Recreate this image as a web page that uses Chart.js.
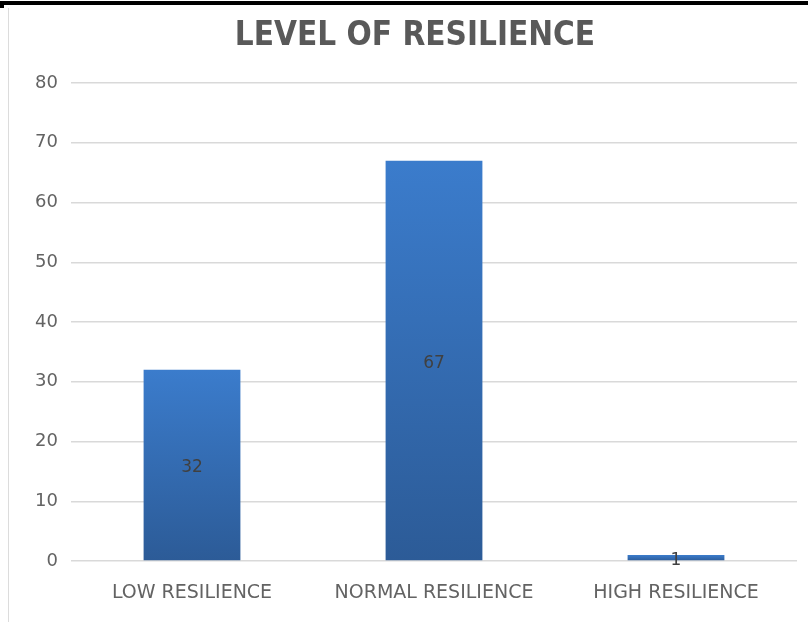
<!DOCTYPE html>
<html>
<head>
<meta charset="utf-8">
<script src="https://cdn.jsdelivr.net/npm/chart.js@4.4.1/dist/chart.umd.min.js"></script>
<style>
  html, body { margin: 0; padding: 0; background: #ffffff; }
  #frame { position: relative; width: 808px; height: 622px; overflow: hidden; }
  #topRule { position: absolute; left: 0; top: 1px; width: 808px; height: 4px; background: #000; }
  #corner { position: absolute; left: 0; top: 5px; width: 4px; height: 3px; background: #000; }
  #leftRule { position: absolute; left: 8px; top: 8px; width: 1px; height: 614px; background: #dcdcdc; }
  canvas { position: absolute; left: 0; top: 0; }
</style>
</head>
<body>
<div id="frame">
  <canvas id="chart" width="808" height="622"></canvas>
  <div id="topRule"></div>
  <div id="corner"></div>
  <div id="leftRule"></div>
</div>
<script>
// Resilience levels and respondent counts
const categories = ['LOW RESILIENCE', 'NORMAL RESILIENCE', 'HIGH RESILIENCE'];
const counts = [32, 67, 1];
const yTicks = [0, 10, 20, 30, 40, 50, 60, 70, 80];

const textGrey = '#595959';
const labelFont = "'DejaVu Sans', sans-serif";

// Each bar gets its own vertical gradient, lighter at the top
function barGradient(ctx) {
  const chart = ctx.chart;
  const y = chart.scales && chart.scales.y;
  if (!y || !chart.chartArea || ctx.parsed == null) return '#3470b8';
  const top = y.getPixelForValue(ctx.parsed.y);
  const base = y.getPixelForValue(0);
  const g = chart.ctx.createLinearGradient(0, top, 0, base);
  g.addColorStop(0, '#3b7ccc');
  g.addColorStop(1, '#2c5b97');
  return g;
}

// Value labels inside each bar, just below its middle
const centreLabels = {
  id: 'centreLabels',
  afterDatasetsDraw(chart) {
    const ctx = chart.ctx;
    const meta = chart.getDatasetMeta(0);
    ctx.save();
    ctx.font = "17px " + labelFont;
    ctx.fillStyle = '#404040';
    ctx.textAlign = 'center';
    ctx.textBaseline = 'middle';
    meta.data.forEach((bar, i) => {
      const mid = (bar.y + bar.base) / 2 + 3;
      ctx.fillText(String(counts[i]), bar.x, mid);
    });
    ctx.restore();
  }
};

new Chart(document.getElementById('chart'), {
  type: 'bar',
  data: {
    labels: categories,
    datasets: [{
      data: counts,
      backgroundColor: barGradient,
      borderWidth: 0,
      barPercentage: 0.4,
      categoryPercentage: 1.0
    }]
  },
  options: {
    responsive: false,
    animation: false,
    events: [],
    layout: { padding: { left: 33, right: 11, top: 0, bottom: 0 } },
    plugins: {
      legend: { display: false },
      tooltip: { enabled: false },
      title: {
        display: true,
        text: 'LEVEL OF RESILIENCE',
        color: textGrey,
        font: { family: "'DejaVu Sans Condensed', 'Liberation Sans Narrow', sans-serif", size: 33, weight: 'bold', lineHeight: 1.2 },
        padding: { top: 17, bottom: 26.4 }
      }
    },
    scales: {
      x: {
        grid: { display: false, drawTicks: false },
        border: { display: false },
        ticks: { color: '#636363', font: { family: labelFont, size: 19 }, padding: 21, maxRotation: 0 },
        afterFit(scale) { scale.height = 61; }
      },
      y: {
        min: 0,
        max: 80,
        afterBuildTicks(scale) { scale.ticks = yTicks.map(v => ({ value: v })); },
        grid: { color: '#d9d9d9', lineWidth: 1.5, drawTicks: false },
        border: { display: false },
        ticks: { color: '#636363', font: { family: labelFont, size: 18 }, padding: 13 },
        afterFit(scale) { scale.width = 38; }
      }
    }
  },
  plugins: [centreLabels]
});
</script>
</body>
</html>
